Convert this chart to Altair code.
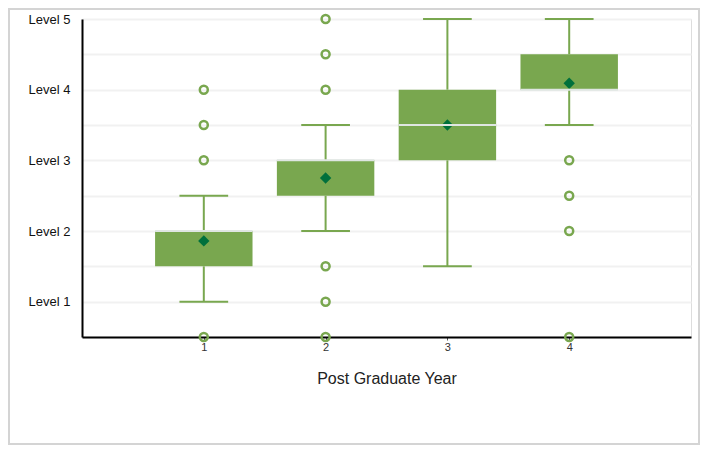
import altair as alt
import pandas as pd

years = [1, 2, 3, 4]
q1 = [1.5, 2.5, 3.0, 4.0]
q3 = [2.0, 3.0, 4.0, 4.5]
median = [2.0, 3.0, 3.5, 4.0]
mean = [1.86, 2.75, 3.5, 4.09]
whisker_low = [1.0, 2.0, 1.5, 3.5]
whisker_high = [2.5, 3.5, 5.0, 5.0]
outlier_year = [1, 1, 1, 1, 2, 2, 2, 2, 2, 2, 4, 4, 4, 4]
outlier_value = [4.0, 3.5, 3.0, 0.5, 5.0, 4.5, 4.0, 1.5, 1.0, 0.5, 3.0, 2.5, 2.0, 0.5]

GREEN = "#79a74f"
DARK = "#00703c"
FONT = "Liberation Sans"

stats = pd.DataFrame({
    "year": years, "q1": q1, "q3": q3, "median": median, "mean": mean,
    "wlo": whisker_low, "whi": whisker_high,
})
outs = pd.DataFrame({"year": outlier_year, "value": outlier_value})

xscale = alt.Scale(domain=[0, 5], nice=False, zero=False)
yscale = alt.Scale(domain=[0.5, 5], nice=False, zero=False)

xaxis = alt.Axis(
    values=[1, 2, 3, 4], format="d", title="Post Graduate Year", grid=False,
    domainColor="#000000", domainWidth=2, tickSize=3, tickColor="#555555",
    labelFont=FONT, labelFontSize=11, labelColor="#333333", labelPadding=1,
    titleFont=FONT, titleFontSize=16, titleFontWeight="normal", titleColor="#222222",
    titlePadding=18,
)
yaxis = alt.Axis(
    tickCount=9, title=None,
    labelExpr="(datum.value * 2) % 2 == 0 ? 'Level ' + datum.value : ''",
    labelOverlap=False,
    grid=True, gridColor="#f1f1f1", gridWidth=2,
    domainColor="#000000", domainWidth=2, ticks=False,
    labelFont=FONT, labelFontSize=13, labelColor="#111111", labelPadding=12,
)

base = alt.Chart(stats)

whisk_lo = base.mark_rule(color=GREEN, strokeWidth=2).encode(
    x=alt.X("year:Q", scale=xscale, axis=xaxis),
    y=alt.Y("wlo:Q", scale=yscale, axis=yaxis),
    y2="q1:Q",
)
whisk_hi = base.mark_rule(color=GREEN, strokeWidth=2).encode(
    x=alt.X("year:Q", scale=xscale, axis=xaxis),
    y=alt.Y("q3:Q", scale=yscale, axis=yaxis), y2="whi:Q",
)
cap_lo = base.transform_calculate(a="datum.year - 0.2", b="datum.year + 0.2").mark_rule(
    color=GREEN, strokeWidth=2).encode(x="a:Q", x2="b:Q", y="wlo:Q")
cap_hi = base.transform_calculate(a="datum.year - 0.2", b="datum.year + 0.2").mark_rule(
    color=GREEN, strokeWidth=2).encode(x="a:Q", x2="b:Q", y="whi:Q")
box = base.transform_calculate(a="datum.year - 0.4", b="datum.year + 0.4").mark_rect(
    color=GREEN).encode(x="a:Q", x2="b:Q", y="q1:Q", y2="q3:Q")
mean_pt = base.mark_point(shape="diamond", filled=True, color=DARK, size=130, opacity=1).encode(
    x="year:Q", y="mean:Q")
med = base.transform_calculate(a="datum.year - 0.4", b="datum.year + 0.4").mark_rule(
    color="#dfe6e2", strokeWidth=2).encode(x="a:Q", x2="b:Q", y="median:Q")
out_pts = alt.Chart(outs).mark_point(shape="circle", filled=False, color=GREEN,
                                     strokeWidth=2.5, size=64, opacity=1).encode(
    x="year:Q", y="value:Q")

frame = alt.Chart(pd.DataFrame({"f": [0]})).mark_rect(
    filled=False, stroke="#d4d4d4", strokeWidth=2).encode(
    x=alt.value(-73), x2=alt.value(617), y=alt.value(-10), y2=alt.value(425))

chart = alt.layer(frame, whisk_lo, whisk_hi, cap_lo, cap_hi, box, mean_pt, med, out_pts).properties(
    width=609, height=318,
    autosize=alt.AutoSizeParams(type="none"),
    padding={"left": 74, "top": 11, "right": 9, "bottom": 108},
).configure_view(stroke=None).configure(background="white")

chart.save("out.html", embed_options={"renderer": "svg", "actions": False})
